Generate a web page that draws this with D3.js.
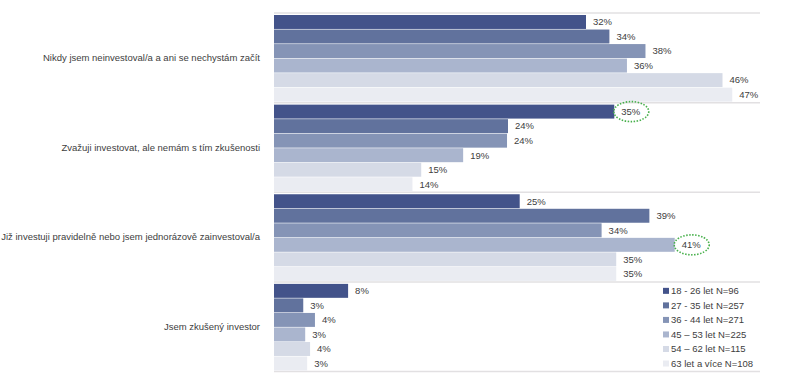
<!DOCTYPE html>
<html>
<head>
<meta charset="utf-8">
<script src="https://cdn.jsdelivr.net/npm/d3@7"></script>
<style>
  body { margin: 0; background: white; }
  text { font-family: "Liberation Sans", Arial, sans-serif; fill: #404040; }
</style>
</head>
<body>
<div id="chart"></div>
<script>
var categories = [
  "Nikdy jsem neinvestoval/a a ani se nechystám začít",
  "Zvažuji investovat, ale nemám s tím zkušenosti",
  "Již investuji pravidelně nebo jsem jednorázově zainvestoval/a",
  "Jsem zkušený investor"
];
var ageGroups = ["18 - 26 let N=96", "27 - 35 let N=257", "36 - 44 let N=271",
                 "45 – 53 let N=225", "54 – 62 let N=115", "63 let a více N=108"];
// values (labels show them rounded)
var v18_26 = [32.0, 34.9, 25.2, 7.6];
var v27_35 = [34.4, 24.0, 38.5, 3.0];
var v36_44 = [38.1, 23.9, 33.6, 4.2];
var v45_53 = [36.2, 19.4, 41.1, 3.2];
var v54_62 = [46.0, 15.1, 35.1, 3.7];
var v63 = [47.0, 14.2, 35.1, 3.4];
var series = [v18_26, v27_35, v36_44, v45_53, v54_62, v63];
// highlighted cells [category index, age group index]
var highlights = [[1, 0], [2, 3]];

var colors = ["#43538a", "#61729d", "#8594b6", "#aab5ce", "#d5dae6", "#eaecf2"];

var width = 796, height = 376;
var margin = { left: 274, top: 13, right: 36, bottom: 4 };

var svg = d3.select("#chart")
  .append("svg")
  .attr("width", width)
  .attr("height", height);

var xscale = d3.scaleLinear()
  .domain([0, 50])
  .range([margin.left, margin.left + 9.75 * 50]);

var yscale = d3.scaleBand()
  .domain(categories)
  .range([margin.top, 371.5])
  .padding(0);

var ysub = d3.scaleBand()
  .domain(d3.range(ageGroups.length))
  .range([2, yscale.bandwidth() - 1])
  .paddingInner(0.04);

// separators
svg.append("g")
  .selectAll("line")
  .data(d3.range(categories.length + 1))
  .enter().append("line")
  .attr("x1", margin.left)
  .attr("x2", width - margin.right)
  .attr("y1", d => d < categories.length ? yscale(categories[d]) : yscale.range()[1])
  .attr("y2", d => d < categories.length ? yscale(categories[d]) : yscale.range()[1])
  .attr("stroke", "#e2e0e2")
  .attr("stroke-width", 1.5);

// bars
var groups = svg.append("g")
  .selectAll("g")
  .data(categories)
  .enter().append("g")
  .attr("transform", d => "translate(0," + yscale(d) + ")");

groups.selectAll("rect")
  .data((d, ci) => series.map((s, si) => ({ ci: ci, si: si, v: s[ci] })))
  .enter().append("rect")
  .attr("x", xscale(0))
  .attr("y", d => ysub(d.si))
  .attr("width", d => xscale(d.v) - xscale(0))
  .attr("height", ysub.bandwidth())
  .attr("fill", d => colors[d.si]);

groups.selectAll("text.val")
  .data((d, ci) => series.map((s, si) => ({ ci: ci, si: si, v: s[ci] })))
  .enter().append("text")
  .attr("class", "val")
  .attr("x", d => xscale(d.v) + 7)
  .attr("y", d => ysub(d.si) + ysub.bandwidth() / 2)
  .attr("dy", "0.35em")
  .style("font-size", "9.5px")
  .text(d => Math.round(d.v) + "%");

// category labels
svg.append("g")
  .selectAll("text")
  .data(categories)
  .enter().append("text")
  .attr("x", 260)
  .attr("y", d => yscale(d) + yscale.bandwidth() / 2)
  .attr("dy", "0.35em")
  .attr("text-anchor", "end")
  .style("font-size", "9.5px")
  .text(d => d);

// highlight ellipses
svg.append("g")
  .selectAll("ellipse")
  .data(highlights)
  .enter().append("ellipse")
  .attr("cx", d => xscale(series[d[1]][d[0]]) + 17)
  .attr("cy", d => yscale(categories[d[0]]) + ysub(d[1]) + ysub.bandwidth() / 2)
  .attr("rx", 17.5)
  .attr("ry", 10)
  .attr("fill", "none")
  .attr("stroke", "#47b04b")
  .attr("stroke-width", 1.6)
  .attr("stroke-dasharray", "1.5,1.5");

// legend
var lastBand = yscale(categories[categories.length - 1]);
var legend = svg.append("g")
  .selectAll("g")
  .data(ageGroups)
  .enter().append("g")
  .attr("transform", (d, i) => "translate(663," + (lastBand + ysub(i) + ysub.bandwidth() / 2) + ")");

legend.append("rect")
  .attr("x", 0)
  .attr("y", -3)
  .attr("width", 6)
  .attr("height", 6)
  .attr("fill", (d, i) => colors[i]);

legend.append("text")
  .attr("x", 8)
  .attr("y", 0)
  .attr("dy", "0.35em")
  .style("font-size", "9.5px")
  .text(d => d);
</script>
</body>
</html>
